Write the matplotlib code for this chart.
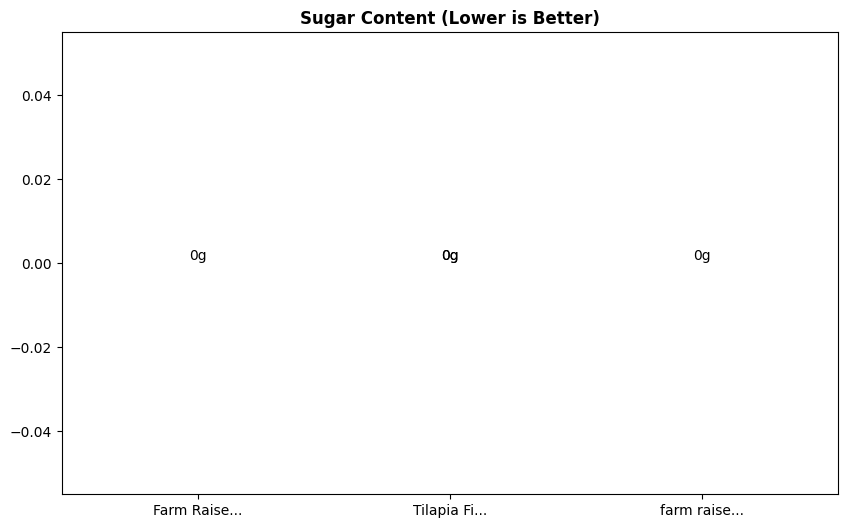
import matplotlib
matplotlib.use("Agg")
import matplotlib.pyplot as plt

categories = ["Farm Raise...", "Tilapia Fi...", "Tilapia Fi...", "farm raise..."]
sugar = [0, 0, 0, 0]

fig, ax = plt.subplots(figsize=(8.46, 5.28), dpi=100)
fig.subplots_adjust(left=0.073, right=0.991, top=0.939, bottom=0.064)
bars = ax.bar(categories, sugar, color="#4c72b0")
for b, v in zip(bars, sugar):
    ax.text(b.get_x() + b.get_width() / 2, v, f"{v}g", ha="center", va="bottom")
ax.set_title("Sugar Content (Lower is Better)", fontweight="bold")
fig.savefig("out.png", dpi=100)
